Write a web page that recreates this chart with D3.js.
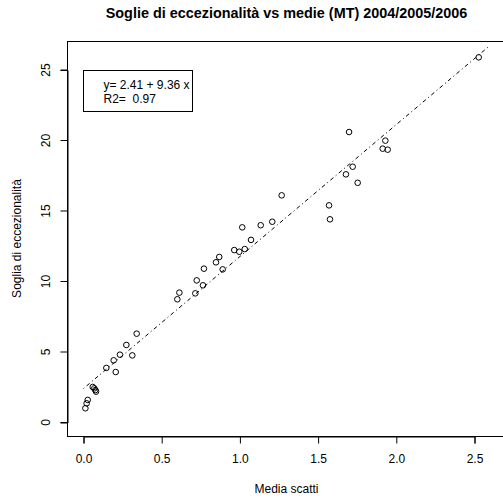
<!DOCTYPE html>
<html>
<head>
<meta charset="utf-8">
<script src="https://cdn.jsdelivr.net/npm/d3@7"></script>
<style>
html,body{margin:0;padding:0;background:#fff;}
svg{display:block;font-family:"Liberation Sans",Arial,Helvetica,sans-serif;}
</style>
</head>
<body>
<svg id="chart" width="503" height="500"></svg>
<script>
// ---- data ----
const mediaScatti = [2.527,1.698,1.930,1.913,1.945,1.721,1.678,1.753,1.267,1.570,1.576,1.133,1.207,1.015,1.071,
  0.964,0.996,1.031,0.868,0.847,0.890,0.770,0.724,0.764,0.715,0.613,0.600,0.340,0.274,0.233,0.312,0.193,0.146,
  0.206,0.059,0.069,0.076,0.080,0.027,0.020,0.012];
const soglia = [25.9,20.6,19.99,19.42,19.35,18.14,17.6,17.0,16.11,15.4,14.41,13.99,14.24,13.84,12.95,
  12.23,12.11,12.30,11.74,11.36,10.86,10.91,10.08,9.73,9.16,9.21,8.74,6.30,5.50,4.81,4.76,4.41,3.87,
  3.58,2.52,2.42,2.30,2.19,1.60,1.36,1.01];
const xTicks = [0.0, 0.5, 1.0, 1.5, 2.0, 2.5];
const yTicks = [0, 5, 10, 15, 20, 25];
const intercept = 2.41, slope = 9.36;
const fitRange = [0, 2.59];
const legendLines = ["y= 2.41 + 9.36 x", "R2=  0.97"];
const titleText = "Soglie di eccezionalità vs medie (MT) 2004/2005/2006";
const xLabel = "Media scatti";
const yLabel = "Soglia di eccezionalità";

// ---- layout ----
const box = {left: 67.5, right: 505, top: 41.5, bottom: 436.5};
const svg = d3.select("#chart");
const x = d3.scaleLinear().domain([0, 2.5]).range([83.5, 474.5]);
const y = d3.scaleLinear().domain([0, 25]).range([422.5, 70]);

// title
svg.append("text").attr("x", 286.5).attr("y", 18).attr("text-anchor", "middle")
  .attr("font-weight", "bold").attr("font-size", 14.4).text(titleText);

// box
svg.append("rect").attr("x", box.left).attr("y", box.top)
  .attr("width", box.right - box.left).attr("height", box.bottom - box.top)
  .attr("fill", "none").attr("stroke", "#000").attr("stroke-width", 1);

// x axis
const xAxis = d3.axisBottom(x).tickValues(xTicks).tickFormat(d3.format(".1f"))
  .tickSize(7).tickPadding(11);
const gx = svg.append("g").attr("transform", `translate(0,${box.bottom})`).call(xAxis);
gx.select(".domain").attr("stroke", "#000");
gx.selectAll("text").attr("font-size", 12).attr("font-family", "Liberation Sans, Arial, sans-serif").attr("fill", "#000");

// y axis
const yAxis = d3.axisLeft(y).tickValues(yTicks).tickSize(7).tickPadding(0);
const gy = svg.append("g").attr("transform", `translate(${box.left},0)`).call(yAxis);
gy.select(".domain").attr("stroke", "#000");
gy.selectAll("text").attr("font-size", 12).attr("font-family", "Liberation Sans, Arial, sans-serif")
  .attr("fill", "#000")
  .attr("text-anchor", "middle")
  .attr("x", null).attr("dy", null)
  .attr("transform", function(d){ return `translate(-17.5,${y(d)}) rotate(-90)`; })
  .attr("y", 0);
gy.selectAll(".tick").attr("transform", null);
gy.selectAll(".tick line").attr("y1", d => y(d)).attr("y2", d => y(d));

// axis titles
svg.append("text").attr("x", 286.5).attr("y", 493).attr("text-anchor", "middle")
  .attr("font-size", 12).text(xLabel);
svg.append("text").attr("transform", `translate(20.5,238.5) rotate(-90)`)
  .attr("text-anchor", "middle").attr("font-size", 12).text(yLabel);

// regression line
svg.append("line")
  .attr("x1", x(fitRange[0])).attr("y1", y(intercept + slope * fitRange[0]))
  .attr("x2", x(fitRange[1])).attr("y2", y(intercept + slope * fitRange[1]))
  .attr("stroke", "#000").attr("stroke-width", 1).attr("stroke-dasharray", "1,3,4,3");

// points
svg.append("g").selectAll("circle").data(mediaScatti.map((d, i) => [d, soglia[i]]))
  .join("circle")
  .attr("cx", d => x(d[0])).attr("cy", d => y(d[1])).attr("r", 2.8)
  .attr("fill", "none").attr("stroke", "#000").attr("stroke-width", 1);

// legend
const lg = svg.append("g");
lg.append("rect").attr("x", 83.5).attr("y", 70.5).attr("width", 109).attr("height", 41)
  .attr("fill", "#fff").attr("stroke", "#000").attr("stroke-width", 1);
lg.selectAll("text").data(legendLines).join("text")
  .attr("x", 103.5).attr("y", (d, i) => 89 + i * 14)
  .attr("font-size", 12).style("white-space", "pre").attr("xml:space", "preserve")
  .text(d => d);
</script>
</body>
</html>
